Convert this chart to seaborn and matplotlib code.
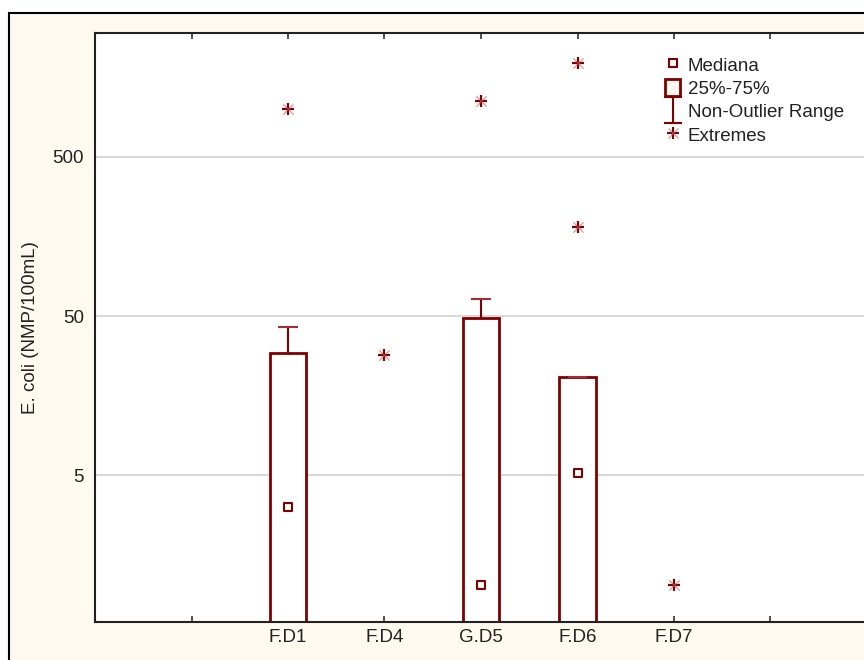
import numpy as np
import pandas as pd
import matplotlib
matplotlib.use("Agg")
import matplotlib.pyplot as plt
import seaborn as sns
from matplotlib.path import Path
from matplotlib.patches import Rectangle, Patch
from matplotlib.lines import Line2D
from matplotlib.legend_handler import HandlerTuple

# --- datos ---
estaciones = ['F.D1', 'F.D4', 'G.D5', 'F.D6', 'F.D7']
posiciones = [2, 3, 4, 5, 6]
medianas = [3.15, np.nan, 1.02, 5.2, np.nan]
q1 = [0.4, np.nan, 0.4, 0.4, np.nan]
q3 = [29.3, np.nan, 48.5, 20.7, np.nan]
bigote_sup = [43.0, np.nan, 64.0, 20.7, np.nan]
ext_estacion = ['F.D1', 'F.D4', 'G.D5', 'F.D6', 'F.D6', 'F.D7']
ext_valor = [1000, 28.5, 1120, 1940, 182, 1.02]

ROJO = '#800000'
CREMA = '#FFFAF0'
FS = 13.5

sns.set_theme(style="white")
plt.rcParams['font.family'] = ['Liberation Sans', 'DejaVu Sans']

fig = plt.figure(figsize=(8.64, 6.6), dpi=100)
fig.patch.set_facecolor('white')
# marco crema del gráfico
fig.patches.append(Rectangle((9 / 864, -0.05), 1.1, 1 - 13 / 660 + 0.05, transform=fig.transFigure,
                             facecolor=CREMA, edgecolor='black', lw=1.5, zorder=-10))
ax = fig.add_axes([95 / 864, 1 - 622 / 660, 772 / 864, 589 / 660])
ax.set_facecolor('white')

ax.set_yscale('log')
ax.set_ylim(0.6, 3000)
ax.set_xlim(0, 8)

# rejilla horizontal
for v in [5, 50, 500]:
    ax.axhline(v, color='#d9d9d9', lw=1.5, zorder=0)

pos_map = dict(zip(estaciones, posiciones))
ancho = 0.38
for p, lo, hi, w in zip(posiciones, q1, q3, bigote_sup):
    if np.isnan(hi):
        continue
    ax.bar(p, hi - lo, bottom=lo, width=ancho, facecolor='white', edgecolor=ROJO, lw=2, zorder=2)
    ax.vlines(p, hi, w, color=ROJO, lw=1.5, zorder=2)
    ax.hlines(w, p - 0.1, p + 0.1, color='#a03030', lw=1.5, zorder=2)

df_med = pd.DataFrame({'x': posiciones, 'y': medianas}).dropna()
sns.scatterplot(data=df_med, x='x', y='y', marker='s', s=40, facecolor='white',
                edgecolor=ROJO, linewidth=1.5, zorder=3, ax=ax)

df_ext = pd.DataFrame({'x': [pos_map[e] for e in ext_estacion], 'y': ext_valor})
sns.scatterplot(data=df_ext, x='x', y='y', marker='+', s=70, color=ROJO, linewidth=1.6, zorder=3, ax=ax)
sns.scatterplot(data=df_ext, x='x', y='y', marker='x', s=55, color='#c06060', linewidth=0.8,
                alpha=0.7, zorder=3, ax=ax)

# ejes
ax.set_xticks([1, 2, 3, 4, 5, 6, 7])
ax.set_xticklabels([''] + estaciones + [''])
ax.set_yticks([5, 50, 500])
ax.set_yticklabels(['5', '50', '500'])
ax.yaxis.set_minor_locator(matplotlib.ticker.NullLocator())
ax.tick_params(axis='x', direction='in', length=4, width=1.2, color='#333333', top=True,
               bottom=True, labelsize=FS, pad=5, labelcolor='#222222')
ax.tick_params(axis='y', length=0, labelsize=FS, pad=8, labelcolor='#222222')
ax.set_xlabel('')
ax.set_ylabel('E. coli (NMP/100mL)', fontsize=FS, color='#222222')
ax.yaxis.set_label_coords(-0.072, 0.5)
for s in ['left', 'bottom', 'top']:
    ax.spines[s].set_color('#222222')
    ax.spines[s].set_linewidth(1.5)
ax.spines['right'].set_visible(False)

# leyenda
marca_I = Path([(-0.7, 1), (0.7, 1), (0, 1), (0, -1), (-0.7, -1), (0.7, -1)],
               [Path.MOVETO, Path.LINETO, Path.MOVETO, Path.LINETO, Path.MOVETO, Path.LINETO])
h_med = Line2D([], [], ls='none', marker='s', ms=6, mfc='white', mec=ROJO, mew=1.5)
h_box = Patch(facecolor=CREMA, edgecolor=ROJO, lw=2)
h_rng = Line2D([], [], ls='none', marker=marca_I, ms=19, mec=ROJO, mew=1.5, fillstyle='none')
h_ext = (Line2D([], [], ls='none', marker='+', ms=8, mec=ROJO, mew=1.5),
         Line2D([], [], ls='none', marker='x', ms=7, mec='#c06060', mew=0.8, alpha=0.7))
leg = ax.legend([h_med, h_box, h_rng, h_ext], ['Mediana', '25%-75%', 'Non-Outlier Range', 'Extremes'],
                handler_map={tuple: HandlerTuple(ndivide=1, pad=0)},
                loc='upper left', bbox_to_anchor=(0.717, 0.99), frameon=False, fontsize=FS,
                handlelength=0.8, handleheight=1.05, handletextpad=0.4, labelspacing=0.22)
for t in leg.get_texts():
    t.set_color('#222222')

fig.savefig('out.png', dpi=100)
